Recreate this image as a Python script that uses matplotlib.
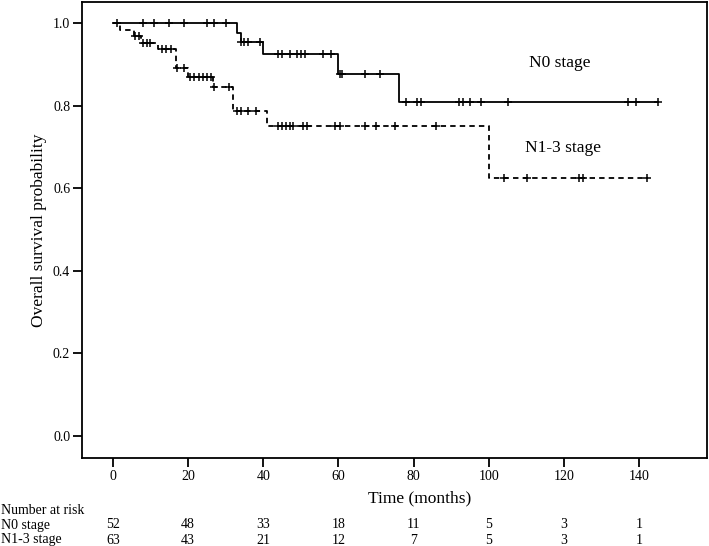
import matplotlib
matplotlib.use("Agg")
import matplotlib.pyplot as plt
import numpy as np

plt.rcParams['font.family'] = ['Liberation Serif', 'DejaVu Serif']

# N0 stage (solid)
n0_times = [0, 33, 34, 40, 60, 76]
n0_surv = [1.0, 0.977, 0.953, 0.925, 0.876, 0.809]
n0_end = 145
n0_censor = [1, 8, 11, 15, 19, 25, 27, 30, 34, 35, 36, 39, 44, 45, 47, 49, 50, 51,
             56, 58, 60.3, 61, 67, 71, 78, 81, 82, 92, 93, 95, 98, 105, 137, 139, 145]

# N1-3 stage (dashed)
n13_times = [0, 2, 5.5, 7.5, 12, 16.8, 20, 26.5, 32, 41, 100]
n13_surv = [1.0, 0.984, 0.968, 0.952, 0.936, 0.892, 0.870, 0.845, 0.787, 0.750, 0.625]
n13_end = 142
n13_censor = [6, 7, 8, 9, 10, 13, 14, 15.5, 17, 19, 20.5, 21.7, 22.8, 24, 25, 26.2,
              27, 31, 33, 34, 36, 38, 44, 45, 46, 47, 48, 50.5, 51.5, 59, 60.5, 67, 70,
              75, 86, 104, 110, 124, 125, 142]

risk_times = [0, 20, 40, 60, 80, 100, 120, 140]
n0_risk = [52, 48, 33, 18, 11, 5, 3, 1]
n13_risk = [63, 43, 21, 12, 7, 5, 3, 1]


def surv_at(times, surv, t):
    idx = np.searchsorted(times, t, side='right') - 1
    return np.array(surv)[idx]


def draw_curve(ax, times, surv, end, censor, ls):
    xs = list(times) + [end]
    ys = list(surv) + [surv[-1]]
    ax.step(xs, ys, where='post', color='black', lw=1.3, linestyle=ls)
    cy = [surv_at(times, surv, c) for c in censor]
    ax.plot(censor, cy, linestyle='none', marker='+', color='black',
            markersize=6, markeredgewidth=1.1)


fig = plt.figure(figsize=(7.09, 5.46), dpi=100)
ax = fig.add_axes([0.1157, 0.1612, 0.8815, 0.8351])

draw_curve(ax, n0_times, n0_surv, n0_end, n0_censor, '-')
draw_curve(ax, n13_times, n13_surv, n13_end, n13_censor, (0, (3, 2.3)))

ax.set_xlim(-8.2, 158)
ax.set_ylim(-0.0545, 1.051)
ax.set_xticks(risk_times)
ax.set_yticks([0.0, 0.2, 0.4, 0.6, 0.8, 1.0])
ax.set_yticklabels(['0.0', '0.2', '0.4', '0.6', '0.8', '1.0'])
ax.tick_params(direction='out', length=6.5, width=1.3, labelsize=10, pad=2)
for s in ax.spines.values():
    s.set_linewidth(1.3)

ax.set_ylabel('Overall survival probability', fontsize=12.5, labelpad=4)

ax.text(118.9, 0.903, 'N0 stage', fontsize=12.5, ha='center', va='center')
ax.text(119.7, 0.697, 'N1-3 stage', fontsize=12.5, ha='center', va='center')

# x label and risk table, placed in figure pixel rows
H = 546.0
fig.text(ax.transData.transform((81.7, 0))[0] / 709.0, 1 - 498 / H, 'Time (months)',
         fontsize=12.5, ha='center', va='center')
fig.text(0.001, 1 - 510 / H, 'Number at risk', fontsize=10, ha='left', va='center')
fig.text(0.001, 1 - 525 / H, 'N0 stage', fontsize=10, ha='left', va='center')
fig.text(0.001, 1 - 540 / H, 'N1-3 stage', fontsize=10, ha='left', va='center')
for t, a, b in zip(risk_times, n0_risk, n13_risk):
    xf = ax.transData.transform((t, 0))[0] / 709.0
    fig.text(xf, 1 - 525 / H, str(a), fontsize=10, ha='center', va='center')
    fig.text(xf, 1 - 540 / H, str(b), fontsize=10, ha='center', va='center')

fig.savefig('out.png', dpi=100)
